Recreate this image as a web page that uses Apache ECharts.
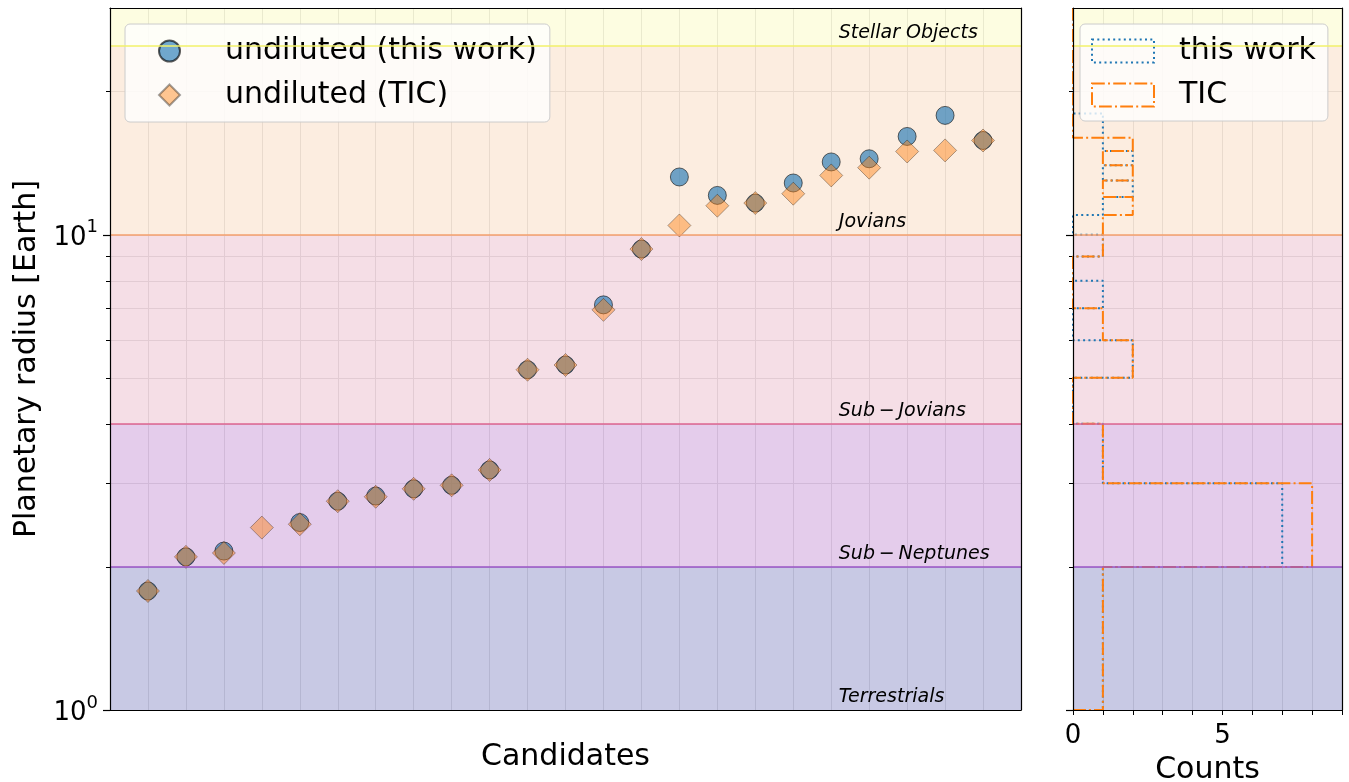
<!DOCTYPE html>
<html>
<head>
<meta charset="utf-8">
<title>Planetary radius of candidates</title>
<script src="https://cdn.jsdelivr.net/npm/echarts@6/dist/echarts.min.js"></script>
<style>
  html, body { margin: 0; padding: 0; background: #fff; }
  #main { width: 1349px; height: 782px; }
</style>
</head>
<body>
<div id="main"></div>
<script>
// 数据
const candidates = [1, 2, 3, 4, 5, 6, 7, 8, 9, 10, 11, 12, 13, 14, 15, 16, 17, 18, 19, 20, 21, 22, 23]
const radiusThisWork = [1.78, 2.10, 2.16, null, 2.48, 2.75, 2.82, 2.92, 2.97, 3.20, 5.20, 5.32,
  7.12, 9.33, 13.23, 12.10, 11.66, 12.85, 14.23, 14.45, 16.10, 17.83, 15.79]
const radiusTIC = [1.78, 2.10, 2.14, 2.42, 2.46, 2.75, 2.81, 2.92, 2.97, 3.20, 5.20, 5.32,
  6.95, 9.33, 10.46, 11.51, 11.66, 12.20, 13.33, 13.84, 14.97, 15.05, 15.79]

// histogram, bins of width 1 from 1 to 30
const binEdges = [1, 2, 3, 4, 5, 6, 7, 8, 9, 10, 11, 12, 13, 14, 15, 16, 17, 18, 19, 20,
  21, 22, 23, 24, 25, 26, 27, 28, 29, 30]
const countsThisWork = [1, 7, 1, 0, 2, 0, 1, 0, 1, 0, 1, 2, 1, 2, 1, 1, 1, 0, 0, 0, 0, 0, 0, 0, 0, 0, 0, 0, 0]
const countsTIC = [1, 8, 1, 0, 2, 1, 0, 0, 1, 1, 2, 1, 2, 1, 2, 0, 0, 0, 0, 0, 0, 0, 0, 0, 0, 0, 0, 0, 0]

// planet classes
const bandEdges = [1, 2, 4, 10, 25, 30]
const bandNames = ['Terrestrials', 'Sub\u2009\u2212\u2009Neptunes', 'Sub\u2009\u2212\u2009Jovians', 'Jovians', 'Stellar Objects']

// ticks
const yMajorTicks = [1, 10]
const yMajorExp = ['0', '1']
const yAllTicks = [1, 2, 3, 4, 5, 6, 7, 8, 9, 10, 20]
const countLabels = [0, 5]

const FONT = 'DejaVu Sans'
const gridColor = '#d9d9d9'
const bandColors = [
  'rgba(145,147,201,0.5)',
  'rgba(201,153,215,0.5)',
  'rgba(235,189,205,0.5)',
  'rgba(249,219,193,0.5)',
  'rgba(251,251,195,0.5)',
]
const edgeColors = ['#9a55c6', '#de6690', '#f4a06c', '#f2f26a']

function stepPath(counts, edges) {
  let pts = [[0, edges[0]]]
  counts.forEach((c, i) => {
    pts.push([c, edges[i]])
    pts.push([c, edges[i + 1]])
  })
  pts.push([0, edges[edges.length - 1]])
  return pts
}

function bandAreas(withLabel) {
  return bandNames.map((name, i) => [
    {
      name: withLabel ? name : '',
      yAxis: bandEdges[i],
      itemStyle: { color: bandColors[i] },
    },
    { yAxis: bandEdges[i + 1] },
  ])
}

function bandLines() {
  return bandEdges.slice(1, -1).map((v, i) => ({
    yAxis: v,
    lineStyle: { color: edgeColors[i], width: 1.5, type: 'solid' },
  }))
}

// 只画边框线的坐标轴
function spine(gridIndex, position) {
  return {
    gridIndex: gridIndex,
    position: position,
    type: 'value',
    min: 0,
    max: 1,
    z: 10,
    silent: true,
    axisLine: { show: true, onZero: false, lineStyle: { color: '#000', width: 1.2 } },
    axisTick: { show: false },
    axisLabel: { show: false },
    splitLine: { show: false },
  }
}

let myChart = echarts.init(document.getElementById('main'))

let options = {
  animation: false,
  textStyle: { fontFamily: FONT },
  grid: [
    { left: 110, right: 328, top: 8, bottom: 72, containLabel: false, outerBoundsMode: 'none' },
    { left: 1073, right: 7, top: 8, bottom: 72, containLabel: false, outerBoundsMode: 'none' },
  ],
  legend: [
    {
      data: ['undiluted (this work)', 'undiluted (TIC)'],
      orient: 'vertical',
      left: 125,
      top: 24,
      padding: [12, 13, 12, 33],
      itemGap: 14,
      itemWidth: 21,
      itemHeight: 21,
      symbolKeepAspect: true,
      selectedMode: false,
      backgroundColor: 'rgba(255,255,255,0.8)',
      borderColor: '#cccccc',
      borderWidth: 1,
      borderRadius: 5,
      textStyle: { fontSize: 30, color: '#000', fontFamily: FONT, lineHeight: 30, padding: [0, 0, 0, 40] },
    },
    {
      data: [
        {
          name: 'this work',
          icon: 'rect',
          itemStyle: { color: 'rgba(0,0,0,0)', borderColor: '#1f77b4', borderWidth: 2, borderType: [2, 3.3] },
        },
        {
          name: 'TIC',
          icon: 'rect',
          itemStyle: { color: 'rgba(0,0,0,0)', borderColor: '#ff7f0e', borderWidth: 2, borderType: [12.8, 3.2, 2, 3.2] },
        },
      ],
      orient: 'vertical',
      left: 1080,
      top: 24,
      padding: [12, 12, 11, 11],
      itemGap: 14,
      itemWidth: 62,
      itemHeight: 23,
      selectedMode: false,
      backgroundColor: 'rgba(255,255,255,0.8)',
      borderColor: '#cccccc',
      borderWidth: 1,
      borderRadius: 5,
      textStyle: { fontSize: 30, color: '#000', fontFamily: FONT, lineHeight: 30, padding: [0, 0, 0, 20] },
    },
  ],
  xAxis: [
    {
      gridIndex: 0,
      type: 'value',
      min: 0,
      max: 24,
      interval: 1,
      axisLine: { show: false },
      axisTick: { show: false },
      axisLabel: { show: false },
      splitLine: { show: true, lineStyle: { color: gridColor, width: 1 } },
      name: 'Candidates',
      nameLocation: 'middle',
      nameGap: 32,
      nameTextStyle: { fontSize: 30, color: '#000', fontFamily: FONT },
    },
    spine(0, 'top'),
    spine(0, 'bottom'),
    {
      gridIndex: 1,
      type: 'value',
      min: 0,
      max: 9,
      interval: 1,
      axisLine: { show: false },
      axisTick: { show: true, length: 5, lineStyle: { color: '#000', width: 1 } },
      axisLabel: {
        margin: 13,
        fontSize: 26,
        color: '#000',
        fontFamily: FONT,
        formatter: (v) => (countLabels.indexOf(v) >= 0 ? String(v) : ''),
      },
      splitLine: { show: true, lineStyle: { color: gridColor, width: 1 } },
      name: 'Counts',
      nameLocation: 'middle',
      nameGap: 45,
      nameTextStyle: { fontSize: 30, color: '#000', fontFamily: FONT },
    },
    spine(1, 'top'),
    spine(1, 'bottom'),
  ],
  yAxis: [
    {
      // 次刻度和网格线
      gridIndex: 0,
      type: 'log',
      logBase: 10,
      min: 1,
      max: 30,
      axisLine: { show: false },
      axisTick: { show: true, customValues: yAllTicks, length: 4, lineStyle: { color: '#000', width: 1 } },
      axisLabel: { show: false },
      splitLine: { show: true, lineStyle: { color: gridColor, width: 1 } },
      name: 'Planetary radius [Earth]',
      nameLocation: 'middle',
      nameGap: 68,
      nameTextStyle: { fontSize: 30, color: '#000', fontFamily: FONT },
    },
    {
      // 主刻度和标签
      gridIndex: 0,
      type: 'log',
      logBase: 10,
      min: 1,
      max: 30,
      z: 10,
      position: 'left',
      axisLine: { show: true, lineStyle: { color: '#000', width: 1.2 } },
      axisTick: { show: true, customValues: yMajorTicks, length: 7, lineStyle: { color: '#000', width: 1.2 } },
      axisLabel: {
        customValues: yMajorTicks,
        margin: 12,
        color: '#000',
        formatter: (v) => {
          let i = yMajorTicks.findIndex((t) => Math.abs(t - v) < 1e-6 * t)
          return i < 0 ? '' : '{b|10}{s|' + yMajorExp[i] + '}'
        },
        rich: {
          b: { fontSize: 26, fontFamily: FONT, color: '#000', lineHeight: 32, verticalAlign: 'bottom' },
          s: { fontSize: 18, fontFamily: FONT, color: '#000', lineHeight: 18, verticalAlign: 'top' },
        },
      },
      splitLine: { show: false },
    },
    spine(0, 'right'),
    {
      gridIndex: 1,
      type: 'log',
      logBase: 10,
      min: 1,
      max: 30,
      axisLine: { show: false },
      axisTick: { show: true, customValues: yAllTicks, length: 4, lineStyle: { color: '#000', width: 1 } },
      axisLabel: { show: false },
      splitLine: { show: true, lineStyle: { color: gridColor, width: 1 } },
    },
    {
      gridIndex: 1,
      type: 'log',
      logBase: 10,
      min: 1,
      max: 30,
      z: 10,
      position: 'left',
      axisLine: { show: true, lineStyle: { color: '#000', width: 1.2 } },
      axisTick: { show: true, customValues: yMajorTicks, length: 7, lineStyle: { color: '#000', width: 1.2 } },
      axisLabel: { show: false },
      splitLine: { show: false },
    },
    spine(1, 'right'),
  ],
  series: [
    {
      name: 'bands',
      type: 'line',
      xAxisIndex: 0,
      yAxisIndex: 0,
      data: [],
      z: 1,
      silent: true,
      markArea: {
        silent: true,
        label: {
          show: true,
          position: ['80%', '100%'],
          align: 'left',
          verticalAlign: 'bottom',
          offset: [0, -3],
          fontSize: 19,
          fontStyle: 'italic',
          fontFamily: FONT,
          color: '#000',
        },
        data: bandAreas(true),
      },
      markLine: {
        silent: true,
        symbol: ['none', 'none'],
        label: { show: false },
        data: bandLines(),
      },
    },
    {
      name: 'bands2',
      type: 'line',
      xAxisIndex: 3,
      yAxisIndex: 3,
      data: [],
      z: 1,
      silent: true,
      markArea: {
        silent: true,
        label: { show: false },
        data: bandAreas(false),
      },
      markLine: {
        silent: true,
        symbol: ['none', 'none'],
        label: { show: false },
        data: bandLines(),
      },
    },
    {
      name: 'undiluted (this work)',
      type: 'scatter',
      xAxisIndex: 0,
      yAxisIndex: 0,
      z: 2,
      symbol: 'circle',
      symbolSize: 18,
      itemStyle: { color: 'rgba(31,119,180,0.8)', borderColor: 'rgba(0,0,0,0.8)', borderWidth: 0.9 },
      data: candidates.map((c, i) => [c, radiusThisWork[i]]).filter((p) => p[1] != null),
    },
    {
      name: 'undiluted (TIC)',
      type: 'scatter',
      xAxisIndex: 0,
      yAxisIndex: 0,
      z: 3,
      symbol: 'diamond',
      symbolSize: 23,
      itemStyle: { color: 'rgba(255,127,14,0.55)', borderColor: 'rgba(0,0,0,0.45)', borderWidth: 0.9 },
      data: candidates.map((c, i) => [c, radiusTIC[i]]),
    },
    {
      name: 'this work',
      type: 'line',
      xAxisIndex: 3,
      yAxisIndex: 3,
      z: 2,
      showSymbol: false,
      symbol: 'none',
      clip: false,
      lineStyle: { color: '#1f77b4', width: 2, type: [2, 3.3] },
      itemStyle: { color: '#1f77b4' },
      data: stepPath(countsThisWork, binEdges),
    },
    {
      name: 'TIC',
      type: 'line',
      xAxisIndex: 3,
      yAxisIndex: 3,
      z: 3,
      showSymbol: false,
      symbol: 'none',
      clip: false,
      lineStyle: { color: '#ff7f0e', width: 2, type: [12.8, 3.2, 2, 3.2] },
      itemStyle: { color: '#ff7f0e' },
      data: stepPath(countsTIC, binEdges),
    },
  ],
}

myChart.setOption(options)
</script>
</body>
</html>
